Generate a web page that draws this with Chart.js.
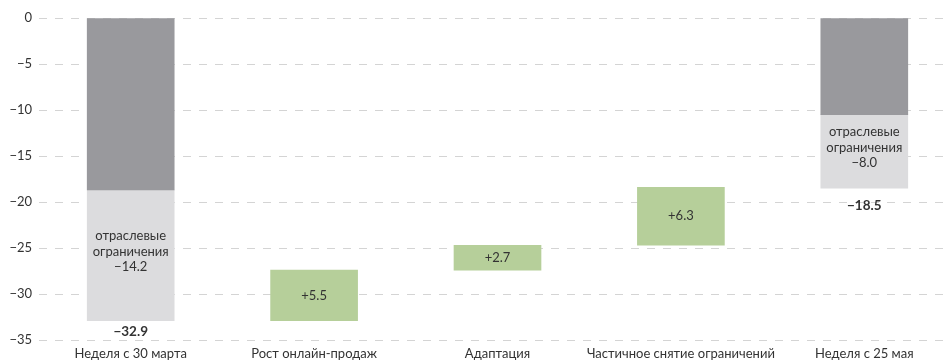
<!DOCTYPE html>
<html lang="ru">
<head>
<meta charset="utf-8">
<script src="https://cdn.jsdelivr.net/npm/chart.js@4.4.1/dist/chart.umd.min.js"></script>
<style>
  html, body { margin: 0; padding: 0; background: #fff; overflow: hidden; }
  #wrap { width: 956px; height: 363px; }
</style>
</head>
<body>
<div id="wrap"><canvas id="waterfall" width="956" height="363"></canvas></div>
<script>
// Categories along the x axis
const categories = ['Неделя с 30 марта', 'Рост онлайн-продаж', 'Адаптация', 'Частичное снятие ограничений', 'Неделя с 25 мая'];
// Weekly totals (first and last column) and the part caused by sector restrictions
const totals = [-32.9, -18.5];
const restrictions = [-14.2, -8.0];
// Step changes between the two weeks
const drivers = [5.5, 2.7, 6.3];
const yTicks = [0, -5, -10, -15, -20, -25, -30, -35];

const restrictLabel = 'отраслевые ограничения';
const minus = v => (v < 0 ? '\u2212' + Math.abs(v).toFixed(1) : v.toFixed(1));

// floating bar ranges
const base = [totals[0] - restrictions[0], null, null, null, totals[1] - restrictions[1]];
const darkData = [[0, base[0]], null, null, null, [0, base[4]]];
const lightData = [[base[0], totals[0]], null, null, null, [base[4], totals[1]]];
const greenData = [null];
let level = totals[0];
drivers.forEach(d => {
    greenData.push([level, level + d]);
    level += d;
});
greenData.push(null);

const FONT = 'Lato, "Open Sans", sans-serif';
const TEXT = '#333333';

// labels inside and under bars
const barLabels = {
    id: 'barLabels',
    afterDatasetsDraw(chart) {
        const c = chart.ctx;
        c.save();
        c.fillStyle = TEXT;
        c.textAlign = 'center';
        c.textBaseline = 'middle';

        // restriction parts of the total columns
        const light = chart.getDatasetMeta(1).data;
        [0, 4].forEach((idx, k) => {
            const el = light[idx];
            const mid = (el.y + el.base) / 2 - 4;
            c.font = '13px ' + FONT;
            const words = restrictLabel.split(' ');
            const lines = [words[0], words[1], minus(restrictions[k])];
            lines.forEach((t, i) => c.fillText(t, el.x, mid + (i - 1) * 15.5));
            // total under column
            c.font = 'bold 13.5px ' + FONT;
            c.fillText(minus(totals[k]), el.x, el.y + (k === 0 ? 11 : 17));
        });

        // step changes
        const green = chart.getDatasetMeta(2).data;
        drivers.forEach((d, i) => {
            const el = green[i + 1];
            c.font = '13px ' + FONT;
            c.fillText('+' + d.toFixed(1), el.x, (el.y + el.base) / 2);
        });
        c.restore();
    }
};

new Chart(document.getElementById('waterfall'), {
    type: 'bar',
    data: {
        labels: categories,
        datasets: [
            { data: darkData, backgroundColor: '#99999d' },
            { data: lightData, backgroundColor: '#dcdcde' },
            { data: greenData, backgroundColor: '#b6cf9a' }
        ]
    },
    options: {
        responsive: false,
        animation: false,
        events: [],
        layout: { padding: { top: 18, right: 0, bottom: 0, left: 0 } },
        datasets: { bar: { grouped: false, barThickness: 87, borderWidth: 0 } },
        plugins: { legend: { display: false }, tooltip: { enabled: false } },
        scales: {
            x: {
                afterFit: axis => { axis.height = 23; },
                grid: { display: false, drawTicks: false, tickLength: 0 },
                border: { display: false },
                ticks: { color: TEXT, font: { family: FONT, size: 13 }, padding: 6, maxRotation: 0, autoSkip: false }
            },
            y: {
                min: -35,
                max: 0,
                afterBuildTicks: axis => { axis.ticks = yTicks.map(v => ({ value: v })); },
                afterFit: axis => { axis.width = 39; },
                grid: { color: '#d4d4d4', lineWidth: 1, drawTicks: false },
                border: { display: false, dash: [8, 8] },
                ticks: {
                    color: TEXT,
                    font: { family: FONT, size: 13 },
                    padding: 7,
                    callback: v => (v < 0 ? '\u2212' + Math.abs(v) : String(v))
                }
            }
        }
    },
    plugins: [barLabels]
});
</script>
</body>
</html>
